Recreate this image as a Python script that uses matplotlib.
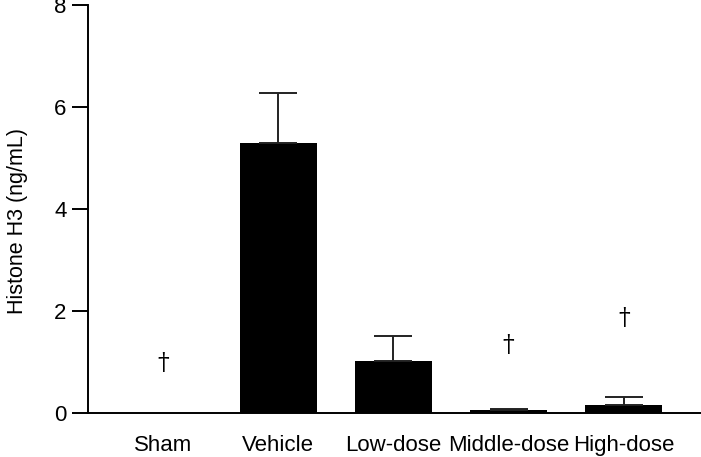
import matplotlib
matplotlib.use("Agg")
import matplotlib.pyplot as plt
import numpy as np

# data
groups = ["Sham", "Vehicle", "Low-dose", "Middle-dose", "High-dose"]
means = [0.0, 5.29, 1.02, 0.05, 0.15]
sem_upper = [0.0, 0.98, 0.49, 0.03, 0.16]
dagger_y = [0.98, None, None, 1.33, 1.86]

plt.rcParams["font.family"] = ["Liberation Sans", "DejaVu Sans"]

fig = plt.figure(figsize=(7.01, 4.57), dpi=100)
ax = fig.add_axes([0.1255, 0.0963, 0.8745, 0.8927])

x = np.arange(len(groups))
ax.bar(x, means, width=0.67, color="black", zorder=2)
ax.errorbar(x[1:], means[1:], yerr=[np.zeros(len(x) - 1), sem_upper[1:]],
            fmt="none", ecolor="#222222", elinewidth=1.4, capsize=14,
            capthick=1.4, zorder=3)

# significance markers
for xi, yi in zip(x, dagger_y):
    if yi is not None:
        ax.text(xi, yi, "\u2020", ha="center", va="center", fontsize=17,
                family=["DejaVu Serif"])

ax.set_xlim(-0.65, 4.67)
ax.set_ylim(0, 8)
ax.set_yticks([0, 2, 4, 6, 8])
ax.set_xticks(x)
ax.set_xticklabels(groups)
ax.set_ylabel("Histone H3 (ng/mL)", fontsize=15.5, labelpad=22)
ax.yaxis.set_label_coords(-0.098, 0.47)

for s in ["top", "right"]:
    ax.spines[s].set_visible(False)
for s in ["left", "bottom"]:
    ax.spines[s].set_linewidth(1.4)
ax.tick_params(axis="y", length=11.5, width=1.4, labelsize=16, pad=4)
ax.tick_params(axis="x", length=0, labelsize=16, pad=16)

fig.savefig("out.png", dpi=100)
